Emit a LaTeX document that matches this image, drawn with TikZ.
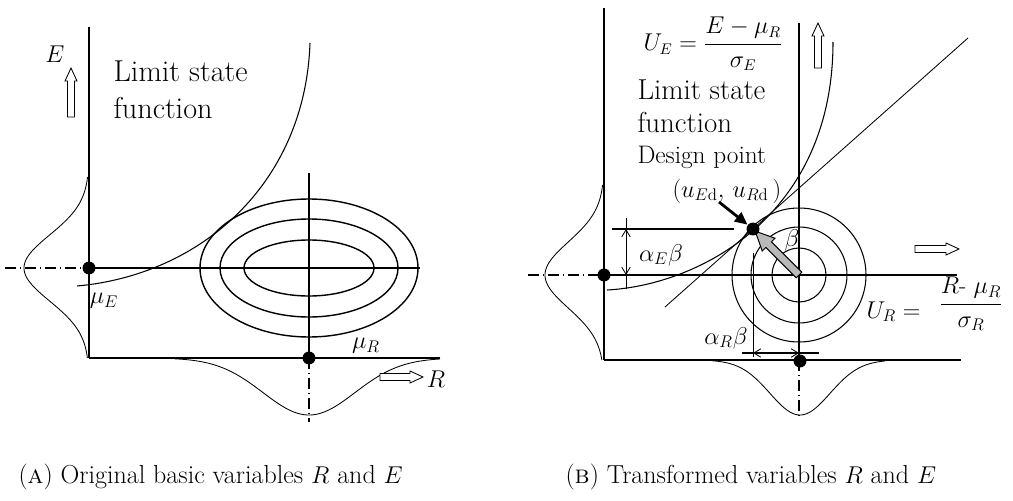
\documentclass[tikz,border=0pt]{standalone}
\usepackage{amsmath}
\usetikzlibrary{arrows.meta,calc}

\tikzset{every picture/.style={line width=0.75pt}}
\tikzset{
  dashdot/.style={dash pattern=on 8pt off 2.5pt on 1.2pt off 2.5pt},
  heavy/.style={line width=1.5pt},
  bell/.style={line width=0.6pt},
  dotpt/.style={circle, fill=black, inner sep=0pt, minimum size=9.2pt},
  bigtxt/.style={font=\fontsize{21.5}{26}\selectfont, inner sep=0pt, anchor=base west},
  midtxt/.style={font=\fontsize{18}{22}\selectfont, inner sep=0pt, anchor=base west},
  mathlbl/.style={font=\fontsize{17}{20}\selectfont, inner sep=0pt},
  captxt/.style={font=\fontsize{18.5}{22}\selectfont, inner sep=0pt, anchor=base west},
  dimarrow/.style={line width=0.6pt, {Straight Barb[length=5pt,width=6pt]}-{Straight Barb[length=5pt,width=6pt]}}
}
% hollow arrow: start point, direction, length
\newcommand{\hollowarrow}[3]{%
  \draw[line width=0.6pt, fill=white, shift={(#1)}, rotate=#2]
    (0,-3.5) -- (#3-13,-3.5) -- (#3-13,-6) -- (#3,0) -- (#3-13,6) -- (#3-13,3.5) -- (0,3.5) -- cycle;}

\begin{document}
\begin{tikzpicture}[x=0.025cm, y=-0.025cm]
    \useasboundingbox (0,0) rectangle (1013,500);

    % (a) original basic variables
    \draw (89,27) -- (89,358);
    \draw[heavy] (89,358) -- (440,358);
    \draw[dashdot] (5,268) -- (89,268);
    \draw (89,268) -- (420,268);
    \draw[heavy] (309,173) -- (309,358);
    \draw[dashdot] (309,358) -- (309,422);
    \draw[line width=1pt] (309,268) ellipse (109 and 69);
    \draw[line width=1pt] (309,268) ellipse (89 and 49);
    \draw[line width=1pt] (309,268) ellipse (65 and 28);
    \draw (77,286) .. controls (200,275) and (305,185) .. (310,43);
    \draw[bell] plot[domain=177:358, samples=80] ({89-65*exp(-0.5*((\x-268)/33)^2)}, \x);
    \draw[bell] plot[domain=175:440, samples=90] (\x, {358+57*exp(-0.5*((\x-309)/46)^2)});
    \node[dotpt] (dotE) at (89,268) {};
    \node[dotpt] (dotR) at (309,358) {};
    \hollowarrow{71,117}{90}{49}
    \hollowarrow{380,377}{0}{43}
    \node[mathlbl] (labE) at (55,54) {$E$};
    \node[mathlbl] (labR) at (436,379) {$R$};
    \node[mathlbl] (muE) at (104,301) {$\mu_E$};
    \node[mathlbl] (muR) at (366,346) {$\mu_R$};
    \node[bigtxt] (lsfA1) at (113,81) {Limit state};
    \node[bigtxt] (lsfA2) at (113,118) {function};

    % (b) transformed variables
    \draw (604,8) -- (604,360);
    \draw[heavy] (604,360) -- (961,360);
    \draw[dashdot] (528,275) -- (604,275);
    \draw (604,275) -- (957,275);
    \draw (799,23) -- (799,360);
    \draw[dashdot] (799,360) -- (799,418);
    \draw (799,275) circle (67);
    \draw (799,275) circle (48);
    \draw (799,275) circle (27);
    \coordinate (dp) at (753,229);
    \draw (607,290) .. controls (700,285) and (833,215) .. (833,42);
    \draw[line width=0.6pt] ($(dp)+(-88,78)$) -- ($(dp)+(215,-191)$);
    \draw[bell] plot[domain=185:360, samples=80] ({604-59*exp(-0.5*((\x-275)/33)^2)}, \x);
    \draw[bell] plot[domain=712:885, samples=80] (\x, {360+55*exp(-0.5*((\x-800)/30)^2)});
    % dimension lines
    \draw[heavy] (612,229) -- (734,229);
    \draw[line width=0.6pt] (626,218) -- (626,289);
    \draw[dimarrow] (626,229) -- (626,275);
    \draw[line width=0.6pt] (753,253) -- (753,357);
    \draw[heavy] (742,353) -- (819,353);
    \draw[dimarrow] (753,353) -- (799,353);
    % reliability index
    \draw[line width=0.7pt, fill=gray!55, shift={(799,275)}, rotate=135]
      (0,-4) -- (43,-4) -- (43,-9) -- (62,0) -- (43,9) -- (43,4) -- (0,4) -- cycle;
    \node[dotpt] (dotD) at (dp) {};
    \node[dotpt] (dotEb) at (604,275) {};
    \node[dotpt] (dotRb) at (800,361) {};
    \coordinate (ptr) at (719,202);
    \draw[line width=2pt, -{Triangle[length=9pt,width=8pt]}] (ptr) -- (dotD);
    \hollowarrow{818,68}{90}{45}
    \hollowarrow{915,249}{0}{44}
    \node[mathlbl, font=\fontsize{16}{19}\selectfont, anchor=west] (uE) at (643,44) {$U_E = \dfrac{E - \mu_R}{\sigma_E}$};
    \node[mathlbl, anchor=base west] (uR) at (866,318) {$U_R =$};
    \node[mathlbl] (uRfrac) at (971,304) {$\dfrac{R\mbox{-}\ \mu_R}{\sigma_R}$};
    \node[bigtxt, font=\fontsize{20.5}{25}\selectfont] (lsfB1) at (637,99) {Limit state};
    \node[bigtxt, font=\fontsize{20.5}{25}\selectfont] (lsfB2) at (637,132) {function};
    \node[midtxt] (dpt) at (637,163) {Design point};
    \node[mathlbl, anchor=base west] (dcoord) at (672,197) {$(u_{E\mathrm{d}},\, u_{R\mathrm{d}}\,)$};
    \node[mathlbl] (aE) at (661,255) {$\alpha_E\beta$};
    \node[mathlbl] (aR) at (726,338) {$\alpha_R\beta$};
    \node[mathlbl] (beta) at (792,240) {$\beta$};

    % captions
    \node[captxt] (capA) at (18,483) {(\textsc{a}) Original basic variables $R$ and $E$};
    \node[captxt] (capB) at (565,483) {(\textsc{b}) Transformed variables $R$ and $E$};
\end{tikzpicture}
\end{document}
